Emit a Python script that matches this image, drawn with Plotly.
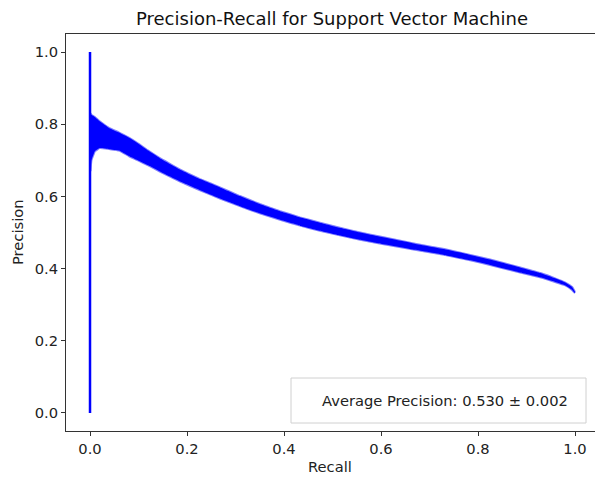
import plotly.graph_objects as go

# Recall grid and the band of precision curves (lower / upper envelope)
recall = [0.001, 0.003, 0.01, 0.02, 0.04, 0.06, 0.08, 0.10, 0.12, 0.144, 0.165, 0.186,
          0.227, 0.268, 0.309, 0.35, 0.392, 0.433, 0.474, 0.515, 0.557, 0.6, 0.67, 0.73,
          0.784, 0.825, 0.887, 0.93, 0.959, 0.979, 0.994, 1.0]
precision_low = [0.67, 0.70, 0.725, 0.734, 0.731, 0.727, 0.712, 0.699, 0.686, 0.669, 0.655, 0.641,
                 0.617, 0.594, 0.573, 0.553, 0.535, 0.519, 0.505, 0.492, 0.480, 0.469, 0.452, 0.438,
                 0.423, 0.410, 0.389, 0.375, 0.363, 0.354, 0.341, 0.332]
precision_high = [0.83, 0.826, 0.82, 0.808, 0.789, 0.777, 0.763, 0.746, 0.727, 0.706, 0.69, 0.674,
                  0.648, 0.625, 0.601, 0.579, 0.559, 0.542, 0.527, 0.513, 0.50, 0.488, 0.469, 0.454,
                  0.438, 0.425, 0.403, 0.387, 0.373, 0.362, 0.349, 0.335]
# vertical start of the curves at recall 0
spike_recall = [0.0, 0.0]
spike_precision = [0.0, 1.0]

legend_text = "Average Precision: 0.530 ± 0.002"
title_text = "Precision-Recall for Support Vector Machine"
x_ticks = [0.0, 0.2, 0.4, 0.6, 0.8, 1.0]
y_ticks = [0.0, 0.2, 0.4, 0.6, 0.8, 1.0]

W, H = 595, 482
L, T, B = 66, 34, 51
plot_w = W - L
plot_h = H - T - B

fig = go.Figure()
fig.add_trace(go.Scatter(x=recall, y=precision_low, mode="lines",
                         line=dict(color="rgba(0,0,255,0.5)", width=2, shape="spline", smoothing=0.3),
                         showlegend=False))
fig.add_trace(go.Scatter(x=recall, y=precision_high, mode="lines", fill="tonexty",
                         fillcolor="rgb(0,0,255)",
                         line=dict(color="rgba(0,0,255,0.5)", width=2, shape="spline", smoothing=0.3),
                         showlegend=False))
fig.add_trace(go.Scatter(x=spike_recall, y=spike_precision, mode="lines",
                         line=dict(color="rgb(0,0,255)", width=2.5), showlegend=False))

font_family = "DejaVu Sans"
fs = 14.7

def px_to_paper_x(px):
    return (px - L) / plot_w

def px_to_paper_y(py):
    return (H - B - py) / plot_h

fig.update_layout(
    width=W, height=H,
    margin=dict(l=L, r=0, t=T, b=B),
    plot_bgcolor="white", paper_bgcolor="white",
    font=dict(family=font_family, size=fs, color="#222"),
    title=dict(text=title_text, x=(136 + 528) / 2 / W, xanchor="center",
               y=1 - 19 / H, yanchor="middle", yref="container",
               font=dict(family=font_family, size=18, color="#111")),
    xaxis=dict(range=[-0.0495, -0.0495 + plot_w / 485], tickvals=x_ticks,
               ticktext=[f"{v:.1f}" for v in x_ticks],
               showgrid=False, zeroline=False, showline=True, mirror=True,
               linecolor="#333", linewidth=1, ticks="outside", ticklen=4,
               tickcolor="#333", tickfont=dict(size=fs, color="#222")),
    yaxis=dict(range=[-0.05, 1.05], tickvals=y_ticks,
               ticktext=[f"{v:.1f}" for v in y_ticks],
               showgrid=False, zeroline=False, showline=True, mirror=False,
               linecolor="#333", linewidth=1, ticks="outside", ticklen=4,
               tickcolor="#333", tickfont=dict(size=fs, color="#222")),
    shapes=[dict(type="rect", xref="paper", yref="paper",
                 x0=px_to_paper_x(291), x1=px_to_paper_x(586),
                 y0=px_to_paper_y(423), y1=px_to_paper_y(378),
                 line=dict(color="#d0d0d0", width=1), fillcolor="rgba(255,255,255,0.8)")],
    annotations=[
        dict(text=legend_text, xref="paper", yref="paper",
             x=px_to_paper_x(320), y=px_to_paper_y(400.5), xanchor="left", yanchor="middle",
             showarrow=False, font=dict(size=fs, color="#222")),
        dict(text="Recall", xref="paper", yref="paper",
             x=px_to_paper_x(330), y=px_to_paper_y(466), xanchor="center", yanchor="middle",
             showarrow=False, font=dict(size=fs, color="#222")),
        dict(text="Precision", xref="paper", yref="paper",
             x=px_to_paper_x(18), y=px_to_paper_y(232), xanchor="center", yanchor="middle",
             textangle=-90, showarrow=False, font=dict(size=fs, color="#222")),
    ],
)

fig.write_html("out.html")
